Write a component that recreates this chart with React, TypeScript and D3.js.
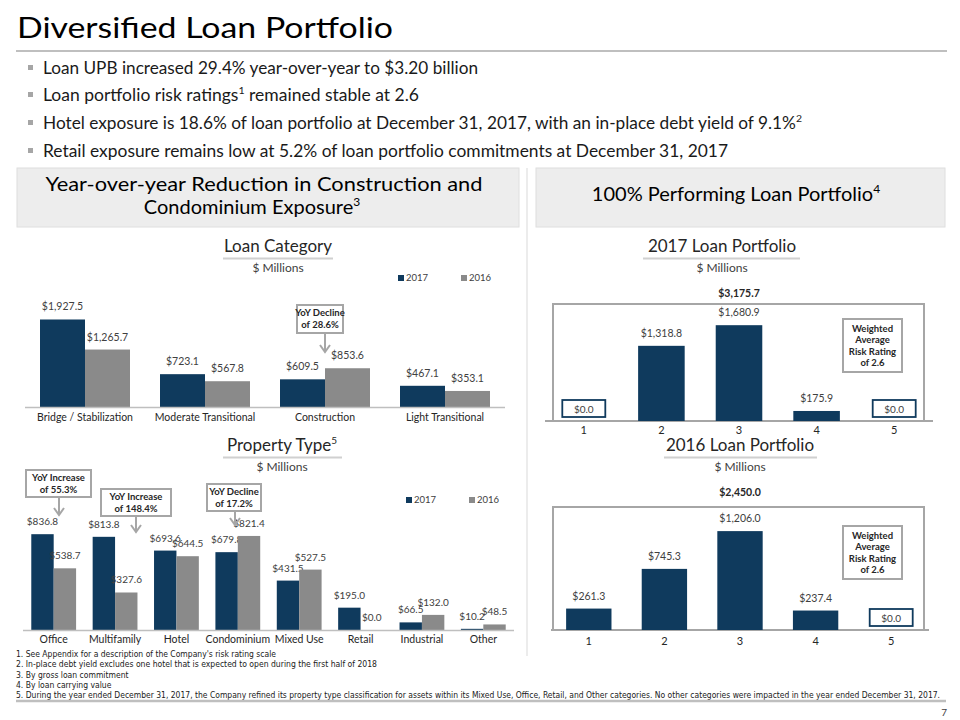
import React from 'react';
import * as d3 from 'd3';

const loanCategories = ['Bridge / Stabilization', 'Moderate Transitional', 'Construction', 'Light Transitional'];
const loan2017 = [1927.5, 723.1, 609.5, 467.1];
const loan2016 = [1265.7, 567.8, 853.6, 353.1];

const propertyTypes = ['Office', 'Multifamily', 'Hotel', 'Condominium', 'Mixed Use', 'Retail', 'Industrial', 'Other'];
const prop2017 = [836.8, 813.8, 693.6, 679.8, 431.5, 195.0, 66.5, 10.2];
const prop2016 = [538.7, 327.6, 644.5, 821.4, 527.5, 0.0, 132.0, 48.5];

const riskRatings = ['1', '2', '3', '4', '5'];
const risk2017 = [0.0, 1318.8, 1680.9, 175.9, 0.0];
const risk2016 = [261.3, 745.3, 1206.0, 237.4, 0.0];
const total2017 = '$3,175.7';
const total2016 = '$2,450.0';

const seriesNames = ['2017', '2016'];

const bullets = [
  { pre: 'Loan UPB increased 29.4% year-over-year to $3.20 billion', sup: '', post: '' },
  { pre: 'Loan portfolio risk ratings', sup: '1', post: ' remained stable at 2.6' },
  { pre: 'Hotel exposure is 18.6% of loan portfolio at December 31, 2017, with an in-place debt yield of 9.1%', sup: '2', post: '' },
  { pre: 'Retail exposure remains low at 5.2% of loan portfolio commitments at December 31, 2017', sup: '', post: '' },
];
const footnotes = [
  "1. See Appendix for a description of the Company's risk rating scale",
  '2. In-place debt yield excludes one hotel that is expected to open during the first half of 2018',
  '3. By gross loan commitment',
  '4. By loan carrying value',
  '5. During the year ended December 31, 2017, the Company refined its property type classification for assets within its Mixed Use, Office, Retail, and Other categories. No other categories were impacted in the year ended December 31, 2017.',
];

const NAVY = '#0f3a5d';
const GRAY = '#8a8a8a';
const LINE = '#bfbfbf';
const BOXLINE = '#a6a6a6';
const FONT = "Lato, 'Open Sans', sans-serif";
const NARROW = "'Liberation Sans Narrow', 'DejaVu Sans Condensed', Lato, sans-serif";
const colors = [NAVY, GRAY];

const fmt = (v: number) => '$' + d3.format(',.1f')(v);

function Callout({ cx, top, w, h, ax, ay, lines }: any) {
  return (
    <g>
      <rect x={cx - w / 2} y={top} width={w} height={h} fill="#fff" stroke={BOXLINE} strokeWidth={2} />
      {lines.map((l: string, i: number) => (
        <text key={i} x={cx} y={top + 11 + i * 11.5} textAnchor="middle" fontSize={9.5} fontWeight={700} fill="#262626">
          {l}
        </text>
      ))}
      <path d={`M${ax},${top + h + 1}V${ay}M${ax - 5},${ay - 7}L${ax},${ay}L${ax + 5},${ay - 7}`} fill="none" stroke={BOXLINE} strokeWidth={2} />
    </g>
  );
}

function Legend({ x, y }: any) {
  return (
    <g fontSize={9.5} fill="#404040">
      {seriesNames.map((s, i) => (
        <g key={s} transform={`translate(${x + i * 63},${y})`}>
          <rect x={0} y={-6} width={6} height={6} fill={colors[i]} />
          <text x={8} y={0}>{s}</text>
        </g>
      ))}
    </g>
  );
}

function GroupedBars({ cats, a, b, x0r, baseline, yMax, hPx, padIn, padOut, labelSize, tickY, tickSize }: any) {
  const x0 = d3.scaleBand<string>().domain(cats).range(x0r).paddingInner(padIn).paddingOuter(padOut);
  const x1 = d3.scaleBand<string>().domain(seriesNames).range([0, x0.bandwidth()]);
  const y = d3.scaleLinear().domain([0, yMax]).range([baseline, baseline - hPx]);
  const series = [a, b];
  return (
    <g>
      {cats.map((c: string, i: number) => (
        <g key={c} transform={`translate(${x0(c)},0)`}>
          {seriesNames.map((s, j) => {
            const v = series[j][i];
            const bx = x1(s)!;
            return (
              <g key={s}>
                <rect x={bx} y={y(v)} width={x1.bandwidth()} height={baseline - y(v)} fill={colors[j]} />
                <text x={bx + x1.bandwidth() / 2} y={y(v) - 9} textAnchor="middle" fontSize={labelSize} fill="#404040">
                  {fmt(v)}
                </text>
              </g>
            );
          })}
        </g>
      ))}
      <line x1={x0r[0]} x2={x0r[1]} y1={baseline + 0.5} y2={baseline + 0.5} stroke={LINE} strokeWidth={1.5} />
      {cats.map((c: string) => (
        <text key={c} x={x0(c)! + x0.bandwidth() / 2} y={tickY} textAnchor="middle" fontSize={tickSize} fill="#262626">
          {c}
        </text>
      ))}
    </g>
  );
}

function RiskChart({ data, total, xr, baseline, yMax, hPx, box, totalY, tickY }: any) {
  const x = d3.scaleBand<string>().domain(riskRatings).range(xr).paddingInner(0.4).paddingOuter(0.2);
  const y = d3.scaleLinear().domain([0, yMax]).range([baseline, baseline - hPx]);
  return (
    <g>
      <rect x={box[0]} y={box[1]} width={box[2] - box[0]} height={baseline - box[1]} fill="#fff" stroke={BOXLINE} strokeWidth={2} />
      <line x1={xr[0]} x2={xr[1]} y1={baseline} y2={baseline} stroke={BOXLINE} strokeWidth={2} />
      {riskRatings.map((r, i) => {
        const v = data[i];
        const cx = x(r)! + x.bandwidth() / 2;
        if (v === 0) {
          return (
            <g key={r}>
              <rect x={cx - 21.5} y={baseline - 21} width={43} height={17} fill="#fff" stroke={NAVY} strokeWidth={1.8} />
              <text x={cx} y={baseline - 8.5} textAnchor="middle" fontSize={10} fill="#404040">{fmt(v)}</text>
            </g>
          );
        }
        return (
          <g key={r}>
            <rect x={x(r)} y={y(v)} width={x.bandwidth()} height={baseline - y(v)} fill={NAVY} />
            <text x={cx} y={y(v) - 9} textAnchor="middle" fontSize={10.5} fill="#404040">{fmt(v)}</text>
          </g>
        );
      })}
      {riskRatings.map((r) => (
        <text key={r} x={x(r)! + x.bandwidth() / 2} y={tickY} textAnchor="middle" fontSize={11} fill="#262626">{r}</text>
      ))}
      <text x={x('3')! + x.bandwidth() / 2} y={totalY} textAnchor="middle" fontSize={10.5} fontWeight={700} fill="#262626">{total}</text>
    </g>
  );
}

function WeightedBox({ x, y }: any) {
  const lines = ['Weighted', 'Average', 'Risk Rating', 'of 2.6'];
  return (
    <g>
      <rect x={x} y={y} width={59} height={53} fill="#fff" stroke={BOXLINE} strokeWidth={2} />
      {lines.map((l, i) => (
        <text key={i} x={x + 29.5} y={y + 13 + i * 11.3} textAnchor="middle" fontSize={9.5} fontWeight={700} fill="#262626">{l}</text>
      ))}
    </g>
  );
}

function ChartTitle({ cx, y, text, sup, u0, u1, sub }: any) {
  return (
    <g>
      <text x={cx} y={y} textAnchor="middle" fontSize={17} fill="#262626">
        {text}
        {sup ? <tspan fontSize={10} dy={-7}>{sup}</tspan> : null}
      </text>
      <line x1={u0} x2={u1} y1={y + 6.5} y2={y + 6.5} stroke="#d0d0d0" strokeWidth={2} />
      <text x={cx} y={y + 20} textAnchor="middle" fontSize={12} fill="#404040">{sub}</text>
    </g>
  );
}

export default function App() {
  const bulletY = [74, 101, 129, 157];
  const bulletW = [435, 376, 759, 685];
  const footW = [260, 361, 0, 0, 924];
  return (
    <svg width={960} height={720} style={{ position: 'absolute', left: 0, top: 0, background: '#fff' }} fontFamily={FONT}>
      <rect width={960} height={720} fill="#fff" />
      <text x={17} y={38} fontSize={29} fill="#000" textLength={376} lengthAdjust="spacingAndGlyphs">Diversified Loan Portfolio</text>
      <line x1={16} x2={947} y1={51} y2={51} stroke={LINE} strokeWidth={2} />

      {bullets.map((b, i) => (
        <g key={i}>
          <rect x={28} y={bulletY[i] - 9} width={5} height={5} fill="#a6a6a6" />
          <text x={43} y={bulletY[i]} fontSize={16.5} fill="#1a1a1a" textLength={bulletW[i]} lengthAdjust="spacingAndGlyphs">
            {b.pre}
            {b.sup ? <tspan fontSize={10} dy={-7}>{b.sup}</tspan> : null}
            {b.post ? <tspan dy={7}>{b.post}</tspan> : null}
          </text>
        </g>
      ))}

      {/* section headers */}
      <rect x={17} y={168} width={502} height={59} fill="#ededed" stroke="#dedede" strokeWidth={1} />
      <text x={264} y={191} textAnchor="middle" fontSize={20} fill="#000" textLength={437} lengthAdjust="spacingAndGlyphs">Year-over-year Reduction in Construction and</text>
      <text x={252} y={214} textAnchor="middle" fontSize={20} fill="#000">
        Condominium Exposure<tspan fontSize={12} dy={-8}>3</tspan>
      </text>
      <rect x={536} y={168} width={409} height={59} fill="#ededed" stroke="#dedede" strokeWidth={1} />
      <text x={736} y={201} textAnchor="middle" fontSize={20} fill="#000">
        100% Performing Loan Portfolio<tspan fontSize={12} dy={-8}>4</tspan>
      </text>

      <line x1={527} x2={527} y1={168} y2={656} stroke="#d9d9d9" strokeWidth={1} />

      {/* Loan category */}
      <ChartTitle cx={278} y={252} text="Loan Category" u0={223} u1={333} sub="$ Millions" />
      <Legend x={398} y={281} />
      <GroupedBars cats={loanCategories} a={loan2017} b={loan2016} x0r={[25, 505]} baseline={407} yMax={2500} hPx={113.5}
        padIn={0.25} padOut={0.125} labelSize={10.5} tickY={421} tickSize={10.5} />
      <Callout cx={320} top={305} w={46} h={28} ax={325} ay={352} lines={['YoY Decline', 'of 28.6%']} />

      {/* Property type */}
      <ChartTitle cx={282} y={451} text="Property Type" sup="5" u0={223} u1={342} sub="$ Millions" />
      <Legend x={406} y={503} />
      <GroupedBars cats={propertyTypes} a={prop2017} b={prop2016} x0r={[23, 514]} baseline={630} yMax={1000} hPx={114.5}
        padIn={0.27} padOut={0.135} labelSize={10} tickY={643} tickSize={10.5} />
      <Callout cx={58.5} top={470} w={65} h={27} ax={59} ay={515} lines={['YoY Increase', 'of 55.3%']} />
      <Callout cx={136} top={489} w={70} h={27} ax={136} ay={532} lines={['YoY Increase', 'of 148.4%']} />
      <Callout cx={234} top={484} w={54} h={27} ax={235} ay={525} lines={['YoY Decline', 'of 17.2%']} />

      {/* 2017 risk */}
      <ChartTitle cx={722} y={252} text="2017 Loan Portfolio" u0={643} u1={800} sub="$ Millions" />
      <RiskChart data={risk2017} total={total2017} xr={[545, 933]} baseline={421} yMax={2000} hPx={114} box={[553, 304, 924]} totalY={297} tickY={434} />
      <WeightedBox x={843} y={319} />

      {/* 2016 risk */}
      <ChartTitle cx={740} y={451} text="2016 Loan Portfolio" u0={664} u1={817} sub="$ Millions" />
      <RiskChart data={risk2016} total={total2016} xr={[551, 929]} baseline={630} yMax={1500} hPx={123} box={[553, 507, 924]} totalY={496} tickY={645} />
      <WeightedBox x={843} y={526} />

      {/* footnotes */}
      {footnotes.map((f, i) => (
        <text key={i} x={16} y={657 + i * 10.3} fontSize={8.5} fontFamily={NARROW} fill="#1a1a1a"
          textLength={footW[i] || undefined} lengthAdjust={footW[i] ? 'spacingAndGlyphs' : undefined}>{f}</text>
      ))}
      <line x1={16} x2={946} y1={701} y2={701} stroke={LINE} strokeWidth={2.5} />
      <text x={947} y={716} textAnchor="end" fontSize={10} fill="#404040">7</text>
    </svg>
  );
}
